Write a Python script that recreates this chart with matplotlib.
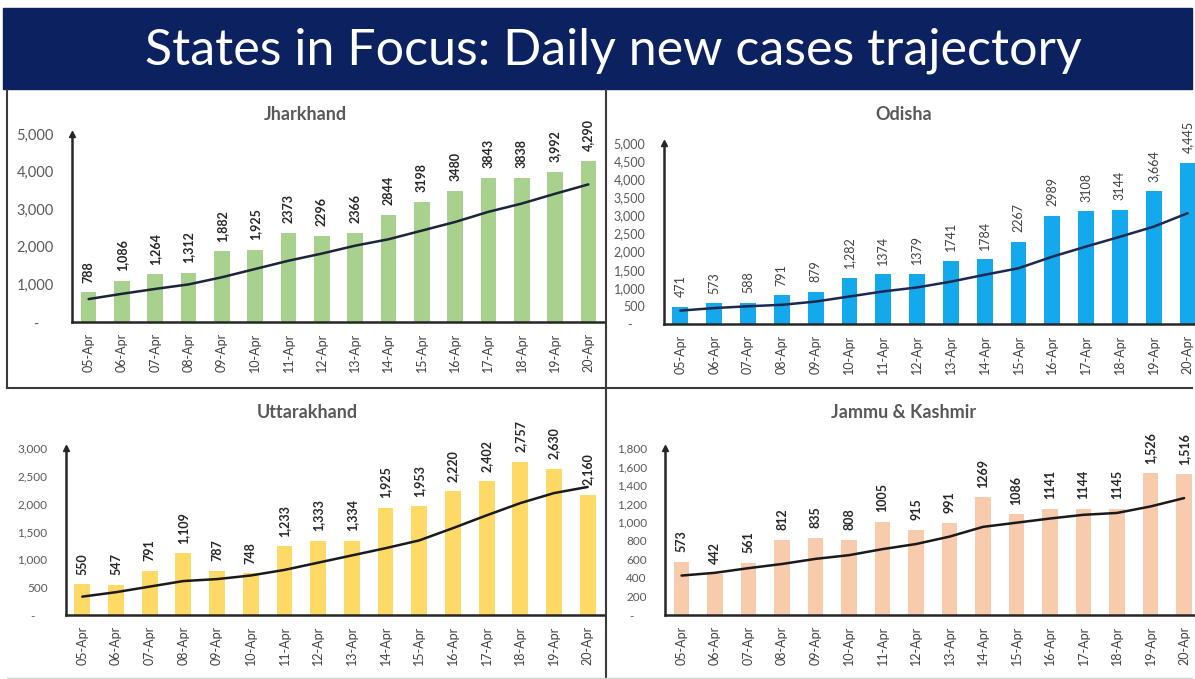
import numpy as np
import matplotlib
matplotlib.use('Agg')
import matplotlib.pyplot as plt
from matplotlib.patches import Rectangle
from matplotlib.lines import Line2D
from matplotlib.ticker import FuncFormatter

W, H = 1195, 679

dates = ['05-Apr', '06-Apr', '07-Apr', '08-Apr', '09-Apr', '10-Apr', '11-Apr', '12-Apr',
         '13-Apr', '14-Apr', '15-Apr', '16-Apr', '17-Apr', '18-Apr', '19-Apr', '20-Apr']

# Jharkhand
jh_cases = [788, 1086, 1264, 1312, 1882, 1925, 2373, 2296, 2366, 2844, 3198, 3480, 3843, 3838, 3992, 4290]
jh_labels = ['788', '1,086', '1,264', '1,312', '1,882', '1,925', '2373', '2296', '2366', '2844',
             '3198', '3480', '3843', '3838', '3,992', '4,290']
jh_trend = [610, 750, 880, 1000, 1190, 1410, 1630, 1820, 2030, 2200, 2430, 2660, 2930, 3150, 3410, 3660]

# Odisha
od_cases = [471, 573, 588, 791, 879, 1282, 1374, 1379, 1741, 1784, 2267, 2989, 3108, 3144, 3664, 4445]
od_labels = ['471', '573', '588', '791', '879', '1,282', '1374', '1379', '1741', '1784', '2267',
             '2989', '3108', '3144', '3,664', '4,445']
od_trend = [370, 440, 490, 530, 620, 760, 900, 1010, 1170, 1360, 1540, 1860, 2140, 2410, 2690, 3060]

# Uttarakhand
ut_cases = [550, 547, 791, 1109, 787, 748, 1233, 1333, 1334, 1925, 1953, 2220, 2402, 2757, 2630, 2160]
ut_labels = ['550', '547', '791', '1,109', '787', '748', '1,233', '1,333', '1,334', '1,925', '1,953',
             '2,220', '2,402', '2,757', '2,630', '2,160']
ut_trend = [330, 410, 510, 610, 645, 710, 810, 940, 1070, 1200, 1340, 1560, 1790, 2010, 2190, 2300]

# Jammu & Kashmir
jk_cases = [573, 442, 561, 812, 835, 808, 1005, 915, 991, 1269, 1086, 1141, 1144, 1145, 1526, 1516]
jk_labels = ['573', '442', '561', '812', '835', '808', '1005', '915', '991', '1269', '1086', '1141',
             '1144', '1145', '1,526', '1,516']
jk_trend = [425, 455, 505, 550, 605, 645, 710, 765, 845, 950, 995, 1040, 1080, 1100, 1170, 1260]

plt.rcParams['font.family'] = ['Lato', 'DejaVu Sans']

fig = plt.figure(figsize=(W / 100, H / 100), dpi=100)
fig.patch.set_facecolor('white')


def px_box(left, right, bottom, top):
    # pixel coords measured from the top-left corner
    return [left / W, 1 - bottom / H, (right - left) / W, (bottom - top) / H]


def fig_line(x0, y0, x1, y1, color='#3a3a3a', lw=1.5):
    fig.add_artist(Line2D([x0 / W, x1 / W], [1 - y0 / H, 1 - y1 / H],
                          transform=fig.transFigure, color=color, lw=lw))


def zero_dash(v, pos):
    return '-    ' if v == 0 else f'{v:,.0f}'


def draw_panel(box, cases, labels, trend, ymax, ystep, color, line_color,
               tick_fs, lab_weight, lab_color):
    ax = fig.add_axes(box)
    ax.patch.set_alpha(0)
    x = np.arange(len(dates))
    ax.bar(x, cases, width=0.47, color=color, zorder=2)
    ax.plot(x, trend, color=line_color, lw=1.8, zorder=3, solid_capstyle='round')
    for xi, v, s in zip(x, cases, labels):
        ax.annotate(s, (xi, v), xytext=(0, 7), textcoords='offset points', rotation=90,
                    ha='center', va='bottom', fontsize=9, fontweight=lab_weight,
                    color=lab_color, annotation_clip=False)
    ax.set_xlim(-0.5, len(dates) - 0.5)
    ax.set_ylim(0, ymax)
    ax.set_yticks(np.arange(0, ymax + 1, ystep))
    ax.yaxis.set_major_formatter(FuncFormatter(zero_dash))
    ax.set_xticks(x)
    ax.set_xticklabels(dates, rotation=90, fontsize=9, color='#404040')
    ax.tick_params(length=0)
    ax.tick_params(axis='y', pad=13, labelsize=tick_fs, labelcolor='#595959')
    ax.tick_params(axis='x', pad=8)
    for s in ['top', 'right']:
        ax.spines[s].set_visible(False)
    for s in ['left', 'bottom']:
        ax.spines[s].set_linewidth(1.8)
        ax.spines[s].set_color('#262626')
        ax.spines[s].set_zorder(4)
    ax.plot(0, 1, marker='^', ms=4.5, color='#262626', transform=ax.transAxes,
            clip_on=False, zorder=5)
    return ax


# header band
fig.patches.append(Rectangle((3 / W, 1 - 89 / H), 1189 / W, 81 / H,
                             transform=fig.transFigure, color='#0c2160', zorder=0))
title = fig.text(613 / W, 1 - 64 / H, 'States in Focus: Daily new cases trajectory',
                 ha='center', va='baseline', color='white', fontsize=36)
fig.canvas.draw()
bb = title.get_window_extent()
title.set_fontsize(36 * 937 / bb.width)

# panel frames
fig_line(7, 90, 7, 388)
fig_line(606, 90, 606, 679)
fig_line(7, 388, 1192, 388)
fig_line(7, 678, 1192, 678, color='#d0d0d0', lw=1.0)

draw_panel(px_box(72, 605, 322, 134), jh_cases, jh_labels, jh_trend, 5000, 1000,
           '#a9d18e', '#1c2438', 10.5, 'bold', '#262626')
draw_panel(px_box(663.5, 1204.5, 324, 143), od_cases, od_labels, od_trend, 5000, 500,
           '#14a9ec', '#1b2852', 9, 'normal', '#404040')
draw_panel(px_box(65.5, 604.5, 615, 448), ut_cases, ut_labels, ut_trend, 3000, 500,
           '#ffd966', '#1a1a1a', 8.5, 'bold', '#262626')
draw_panel(px_box(664.8, 1200.8, 615, 448), jk_cases, jk_labels, jk_trend, 1800, 200,
           '#f8cbad', '#1a1a1a', 8.5, 'bold', '#262626')

panel_titles = ['Jharkhand', 'Odisha', 'Uttarakhand', 'Jammu & Kashmir']
title_pos = [(305, 115), (904, 115), (307, 413), (904, 413)]
for name, (tx, ty) in zip(panel_titles, title_pos):
    fig.text(tx / W, 1 - ty / H, name, ha='center', va='center', fontsize=13,
             fontweight='bold', color='#595959')

fig.savefig('out.png', dpi=100)
